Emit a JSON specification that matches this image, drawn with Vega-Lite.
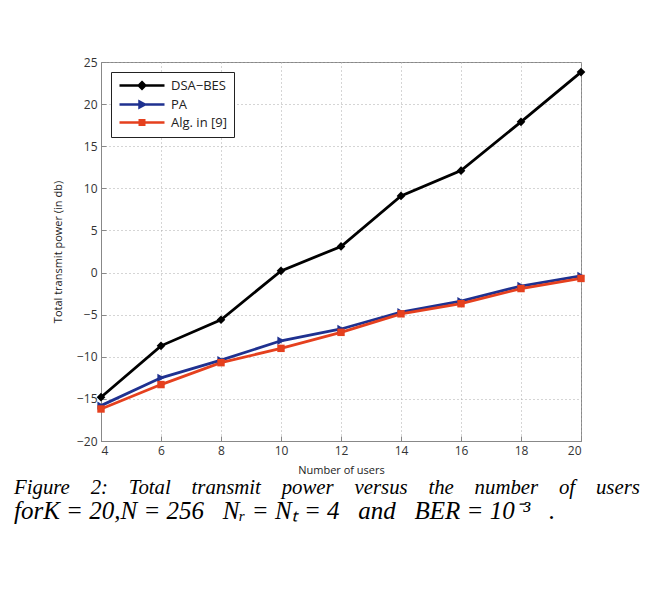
{
  "$schema": "https://vega.github.io/schema/vega-lite/v6.json",
  "autosize": "none",
  "width": 480,
  "height": 379,
  "padding": {"left": 101, "top": 62, "right": 64, "bottom": 155},
  "background": "white",
  "title": {
    "text": "Figure\u20032:\u2003Total\u2003transmit\u2003power\u2003versus\u2003the\u2003number\u2003of\u2003users",
    "subtitle": "forK = 20,N = 256\u2002 Nᵣ = Nₜ = 4\u2002 and\u2002 BER = 10⁻³\u2002 .",
    "orient": "bottom",
    "anchor": "start",
    "frame": "group",
    "dx": -87,
    "offset": 3,
    "font": "Liberation Serif",
    "fontStyle": "italic",
    "fontWeight": "normal",
    "fontSize": 20.8,
    "color": "black",
    "subtitleFont": "Liberation Serif",
    "subtitleFontStyle": "italic",
    "subtitleFontSize": 25,
    "subtitleColor": "black",
    "subtitlePadding": 0
  },
  "data": {
    "values": [
      {"users": 4, "power": -14.8, "series": "DSA−BES"},
      {"users": 6, "power": -8.7, "series": "DSA−BES"},
      {"users": 8, "power": -5.6, "series": "DSA−BES"},
      {"users": 10, "power": 0.2, "series": "DSA−BES"},
      {"users": 12, "power": 3.1, "series": "DSA−BES"},
      {"users": 14, "power": 9.1, "series": "DSA−BES"},
      {"users": 16, "power": 12.1, "series": "DSA−BES"},
      {"users": 18, "power": 17.9, "series": "DSA−BES"},
      {"users": 20, "power": 23.8, "series": "DSA−BES"},
      {"users": 4, "power": -15.8, "series": "PA"},
      {"users": 6, "power": -12.5, "series": "PA"},
      {"users": 8, "power": -10.4, "series": "PA"},
      {"users": 10, "power": -8.1, "series": "PA"},
      {"users": 12, "power": -6.7, "series": "PA"},
      {"users": 14, "power": -4.7, "series": "PA"},
      {"users": 16, "power": -3.4, "series": "PA"},
      {"users": 18, "power": -1.6, "series": "PA"},
      {"users": 20, "power": -0.4, "series": "PA"},
      {"users": 4, "power": -16.2, "series": "Alg. in [9]"},
      {"users": 6, "power": -13.3, "series": "Alg. in [9]"},
      {"users": 8, "power": -10.7, "series": "Alg. in [9]"},
      {"users": 10, "power": -9.0, "series": "Alg. in [9]"},
      {"users": 12, "power": -7.1, "series": "Alg. in [9]"},
      {"users": 14, "power": -4.9, "series": "Alg. in [9]"},
      {"users": 16, "power": -3.7, "series": "Alg. in [9]"},
      {"users": 18, "power": -1.9, "series": "Alg. in [9]"},
      {"users": 20, "power": -0.7, "series": "Alg. in [9]"}
    ]
  },
  "encoding": {
    "x": {
      "field": "users", "type": "quantitative",
      "scale": {"domain": [4, 20], "nice": false, "zero": false},
      "axis": {"title": "Number of users", "values": [4, 6, 8, 10, 12, 14, 16, 18, 20], "titlePadding": 8}
    },
    "y": {
      "field": "power", "type": "quantitative",
      "scale": {"domain": [-20, 25], "nice": false, "zero": false},
      "axis": {"title": "Total transmit power (in db)", "values": [-20, -15, -10, -5, 0, 5, 10, 15, 20, 25], "titlePadding": 13}
    },
    "color": {
      "field": "series", "type": "nominal",
      "scale": {"domain": ["DSA−BES", "PA", "Alg. in [9]"], "range": ["#000000", "#1f3190", "#e5401e"]},
      "legend": {
        "title": null,
        "orient": "top-left",
        "offset": 10,
        "strokeColor": "#222",
        "fillColor": "white",
        "padding": 7,
        "labelFont": "Open Sans",
        "labelFontSize": 13,
        "labelColor": "#222",
        "labelOffset": 40,
        "symbolSize": 100,
        "rowPadding": 2,
        "symbolOpacity": 1,
        "encode": {
          "symbols": {
            "update": {
              "shape": {"signal": "datum.value === 'DSA−BES' ? 'M-1,0H8M3.5,-0.65L4.15,0L3.5,0.65L2.85,0Z' : (datum.value === 'PA' ? 'M-1,0H8M3,-0.6L4.1,0L3,0.6Z' : 'M-1,0H8M3.05,-0.45H3.95V0.45H3.05Z')"},
              "fill": {"scale": "color", "field": "value"},
              "stroke": {"scale": "color", "field": "value"},
              "strokeWidth": {"value": 2.5},
              "opacity": {"value": 1}
            }
          }
        }
      }
    }
  },
  "layer": [
    {
      "mark": {"type": "line", "strokeWidth": 2.8}
    },
    {
      "transform": [{"filter": "datum.series === 'DSA−BES'"}],
      "mark": {"type": "point", "filled": true, "opacity": 1, "size": 75, "shape": "diamond"}
    },
    {
      "transform": [{"filter": "datum.series === 'PA'"}],
      "mark": {"type": "point", "filled": true, "opacity": 1, "size": 70, "shape": "triangle-right"}
    },
    {
      "transform": [{"filter": "datum.series === 'Alg. in [9]'"}],
      "mark": {"type": "point", "filled": true, "opacity": 1, "size": 55, "shape": "square"}
    }
  ],
  "config": {
    "view": {"stroke": "#888", "strokeWidth": 1},
    "axis": {
      "labelFont": "Open Sans",
      "labelFontSize": 12,
      "labelColor": "#333",
      "titleFont": "Open Sans",
      "titleFontSize": 11,
      "titleFontWeight": "normal",
      "titleColor": "#222",
      "domainColor": "#888",
      "tickColor": "#888",
      "tickSize": -5,
      "labelPadding": 9,
      "grid": true,
      "gridColor": "#aaa",
      "gridDash": [1, 3],
      "gridWidth": 1
    }
  }
}
